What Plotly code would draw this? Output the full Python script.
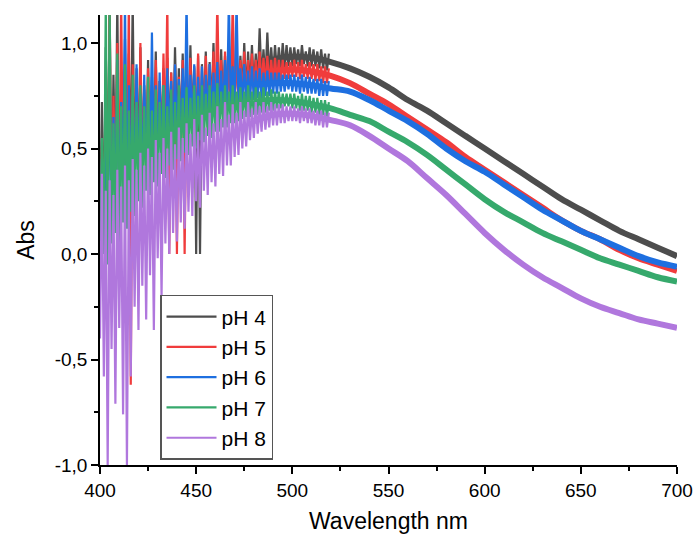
import plotly.graph_objects as go

# Wavelength grids (nm)
wl_noisy = list(range(400, 520))        # 1 nm steps, noisy short-wavelength end
wl_smooth = list(range(480, 701, 10))   # 10 nm steps, band centre from 480 nm on

# Absorbance readings, 400-519 nm (alternating trough / crest per nm)
ph4_noisy = [
    0.10, 0.72, 0.05, 0.98, 0.22, 1.20, 0.15, 0.85, 0.30, 1.20,
    0.20, 0.80, 0.35, 1.02, 0.28, 0.95, 0.40, 1.20, 0.32, 0.88,
    0.42, 0.98, 0.38, 0.80, 0.45, 0.92, 0.40, 0.84, 0.50, 0.96,
    0.45, 0.82, 0.52, 0.88, 0.48, 0.93, 0.55, 0.86, 0.50, 0.98,
    0.56, 0.88, 0.54, 0.95, 0.58, 0.90, 0.55, 0.99, 0.60, 0.89,
    0.00, 0.94, 0.00, 0.90, 0.64, 0.96, 0.62, 0.91, 0.68, 1.00,
    0.66, 0.93, 0.70, 0.97, 0.68, 0.94, 0.72, 1.00, 0.70, 0.95,
    0.74, 0.98, 0.73, 0.94, 0.76, 1.00, 0.75, 0.96, 0.78, 0.99,
    0.79, 0.95, 0.80, 1.07, 0.82, 0.97, 0.82, 1.05, 0.84, 0.98,
    0.85, 0.99, 0.86, 0.98, 0.87, 1.00, 0.88, 0.99, 0.89, 0.98,
    0.89, 0.98, 0.90, 0.97, 0.89, 0.99, 0.90, 0.96, 0.89, 0.98,
    0.89, 0.97, 0.89, 0.96, 0.88, 0.97, 0.88, 0.95, 0.87, 0.95,
]
ph5_noisy = [
    0.05, 0.50, 0.10, 0.85, 0.20, 1.20, 0.12, 0.75, 0.28, 1.00,
    0.15, 1.20, 0.30, 0.82, 0.22, 1.20, -0.62, 0.90, 0.35, 0.80,
    0.30, 1.00, 0.40, 0.78, 0.36, 0.88, 0.45, 0.80, 0.40, 0.92,
    0.48, 0.82, 0.44, 0.95, 0.50, 1.20, 0.00, 0.86, 0.52, 0.90,
    0.00, 0.84, 0.55, 0.92, 0.00, 0.86, 0.58, 0.93, 0.56, 0.88,
    0.60, 0.95, 0.58, 0.89, 0.62, 0.94, 0.60, 0.90, 0.65, 0.96,
    0.63, 1.20, 0.67, 0.92, 0.66, 0.96, 0.70, 0.93, 0.69, 1.20,
    0.72, 0.94, 0.71, 0.92, 0.74, 0.96, 0.74, 0.92, 0.76, 0.95,
    0.77, 0.92, 0.78, 0.96, 0.79, 0.93, 0.80, 0.94, 0.80, 0.92,
    0.81, 0.93, 0.82, 0.92, 0.82, 0.92, 0.83, 0.91, 0.83, 0.91,
    0.84, 0.92, 0.84, 0.91, 0.83, 0.92, 0.84, 0.90, 0.83, 0.91,
    0.83, 0.90, 0.82, 0.90, 0.82, 0.89, 0.81, 0.89, 0.81, 0.88,
]
ph6_noisy = [
    0.00, 0.45, 0.05, 0.70, 0.12, 0.88, 0.08, 0.65, 0.22, 0.92,
    0.15, 0.72, 0.25, 1.20, 0.20, 0.80, 0.30, 0.75, 0.28, 0.90,
    0.35, 0.76, 0.32, 0.85, 0.40, 0.78, 0.38, 1.05, 0.44, 0.80,
    0.42, 0.86, 0.48, 0.80, 0.46, 0.88, 0.52, 0.82, 0.50, 0.90,
    0.55, 0.83, 0.53, 0.88, 0.57, 1.20, 0.56, 0.85, 0.60, 0.90,
    0.58, 0.84, 0.62, 0.89, 0.60, 0.85, 0.64, 0.90, 0.63, 0.86,
    0.66, 0.91, 0.65, 0.87, 0.68, 0.92, 0.67, 1.20, 0.70, 0.89,
    0.69, 1.20, 0.71, 0.88, 0.71, 0.90, 0.72, 0.87, 0.73, 0.89,
    0.73, 0.87, 0.74, 0.88, 0.74, 0.86, 0.75, 0.87, 0.75, 0.86,
    0.76, 0.86, 0.76, 0.86, 0.77, 0.85, 0.77, 0.85, 0.78, 0.85,
    0.77, 0.85, 0.77, 0.84, 0.76, 0.85, 0.77, 0.84, 0.76, 0.84,
    0.76, 0.83, 0.76, 0.83, 0.75, 0.83, 0.75, 0.82, 0.75, 0.82,
]
ph7_noisy = [
    -0.10, 0.55, 0.00, 1.20, -0.05, 1.20, 0.05, 0.62, 0.10, 0.95,
    0.05, 0.70, 0.15, 0.90, 0.12, 0.68, 0.20, 0.85, 0.18, 0.72,
    0.25, 0.80, 0.22, 0.70, 0.30, 0.84, 0.28, 0.68, 0.34, 0.78,
    0.32, 0.72, 0.38, 0.80, 0.36, 0.70, 0.42, 0.78, 0.40, 0.72,
    0.45, 0.80, 0.44, 0.74, 0.48, 0.79, 0.47, 0.74, 0.51, 0.80,
    0.50, 0.75, 0.54, 0.80, 0.53, 0.76, 0.56, 0.80, 0.55, 0.77,
    0.58, 0.81, 0.58, 0.77, 0.60, 0.80, 0.60, 0.77, 0.62, 0.80,
    0.62, 0.77, 0.63, 0.79, 0.64, 0.77, 0.65, 0.80, 0.65, 0.77,
    0.66, 0.79, 0.66, 0.77, 0.67, 0.79, 0.67, 0.77, 0.68, 0.78,
    0.68, 0.77, 0.69, 0.77, 0.69, 0.76, 0.70, 0.76, 0.70, 0.76,
    0.69, 0.76, 0.69, 0.75, 0.68, 0.76, 0.68, 0.75, 0.68, 0.75,
    0.67, 0.74, 0.67, 0.74, 0.66, 0.73, 0.66, 0.73, 0.65, 0.72,
]
ph8_noisy = [
    -0.40, 0.38, -0.58, 0.30, -1.00, 0.35, -0.45, 0.28, -0.71, 0.40,
    -0.35, 0.32, -0.76, 0.42, -1.00, 0.35, -0.58, 0.45, -0.25, 0.40,
    -0.36, 0.48, -0.15, 0.42, -0.31, 0.50, -0.10, 0.46, -0.36, 0.54,
    -0.02, 0.48, -0.20, 0.55, 0.05, 0.50, 0.00, 0.58, 0.10, 0.52,
    0.06, 0.60, 0.15, 0.55, 0.12, 0.62, 0.20, 0.57, 0.18, 0.64,
    0.25, 0.58, 0.22, 0.66, 0.30, 0.60, 0.28, 0.67, 0.34, 0.62,
    0.32, 0.70, 0.38, 0.64, 0.37, 0.72, 0.42, 0.66, 0.42, 0.71,
    0.46, 0.67, 0.47, 0.72, 0.50, 0.68, 0.51, 0.72, 0.54, 0.69,
    0.55, 0.72, 0.57, 0.70, 0.58, 0.72, 0.59, 0.70, 0.60, 0.72,
    0.61, 0.71, 0.61, 0.71, 0.62, 0.71, 0.62, 0.70, 0.63, 0.70,
    0.63, 0.70, 0.63, 0.69, 0.62, 0.70, 0.63, 0.69, 0.62, 0.69,
    0.62, 0.68, 0.61, 0.68, 0.61, 0.68, 0.60, 0.67, 0.60, 0.67,
]

# Absorbance band centre readings, 480-700 nm
ph4_smooth = [0.87, 0.92, 0.935, 0.93, 0.91, 0.88, 0.84, 0.79, 0.73, 0.68,
              0.62, 0.56, 0.50, 0.44, 0.38, 0.32, 0.26, 0.21, 0.16, 0.11,
              0.07, 0.03, -0.01]
ph5_smooth = [0.84, 0.865, 0.875, 0.865, 0.845, 0.81, 0.76, 0.71, 0.65, 0.59,
              0.53, 0.46, 0.40, 0.34, 0.28, 0.22, 0.16, 0.11, 0.07, 0.02,
              -0.02, -0.05, -0.08]
ph6_smooth = [0.80, 0.81, 0.81, 0.80, 0.785, 0.77, 0.73, 0.68, 0.63, 0.57,
              0.50, 0.44, 0.39, 0.33, 0.27, 0.21, 0.16, 0.11, 0.07, 0.03,
              -0.01, -0.04, -0.06]
ph7_smooth = [0.72, 0.73, 0.725, 0.71, 0.69, 0.66, 0.63, 0.58, 0.53, 0.47,
              0.40, 0.33, 0.26, 0.20, 0.15, 0.10, 0.06, 0.02, -0.02, -0.05,
              -0.08, -0.11, -0.13]
ph8_smooth = [0.63, 0.66, 0.665, 0.655, 0.635, 0.61, 0.56, 0.50, 0.44, 0.36,
              0.28, 0.19, 0.10, 0.02, -0.05, -0.11, -0.16, -0.21, -0.25, -0.28,
              -0.31, -0.33, -0.35]

series_names = ["pH 4", "pH 5", "pH 6", "pH 7", "pH 8"]
series_colors = ["#4d4d4d", "#f03c3c", "#1e6fe0", "#36a96c", "#b077dd"]
noisy_sets = [ph4_noisy, ph5_noisy, ph6_noisy, ph7_noisy, ph8_noisy]
smooth_sets = [ph4_smooth, ph5_smooth, ph6_smooth, ph7_smooth, ph8_smooth]

FONT = "Liberation Sans, Arial, sans-serif"

fig = go.Figure()
for name, color, yn, ys in zip(series_names, series_colors, noisy_sets, smooth_sets):
    fig.add_trace(go.Scatter(
        x=wl_noisy, y=yn, mode="lines", name=name, legendgroup=name,
        line=dict(color=color, width=2.2), showlegend=True,
    ))
    fig.add_trace(go.Scatter(
        x=wl_smooth, y=ys, mode="lines", name=name, legendgroup=name,
        line=dict(color=color, width=6, shape="spline"), showlegend=False,
    ))

fig.update_layout(
    width=695, height=535,
    margin=dict(l=100, r=18, t=15, b=70),
    paper_bgcolor="white", plot_bgcolor="white",
    font=dict(family=FONT, size=19, color="black"),
    showlegend=True,
    legend=dict(
        x=0.104, y=0.378, xanchor="left", yanchor="top",
        bgcolor="white", bordercolor="#555555", borderwidth=1.5,
        font=dict(family=FONT, size=21, color="black"),
        itemwidth=50, tracegroupgap=0,
    ),
    annotations=[dict(
        text="Wavelength nm", xref="paper", yref="paper",
        x=0.5, y=-0.124, xanchor="center", yanchor="middle",
        showarrow=False, font=dict(family=FONT, size=23, color="black"),
    )],
)

fig.update_xaxes(
    range=[400, 700], showgrid=False, zeroline=False, automargin=False,
    showline=True, linecolor="black", linewidth=1.5,
    ticks="outside", ticklen=7, tickwidth=1.5, tickcolor="black",
    tickvals=[400, 450, 500, 550, 600, 650, 700],
    minor=dict(ticks="outside", ticklen=4, tickwidth=1.5, tickcolor="black",
               tickvals=[425, 475, 525, 575, 625, 675]),
    tickfont=dict(size=19),
)
fig.update_yaxes(
    range=[-1.0, 1.133], showgrid=False, zeroline=False, automargin=False,
    showline=True, linecolor="black", linewidth=1.5,
    ticks="outside", ticklen=7, tickwidth=1.5, tickcolor="black",
    tickvals=[-1.0, -0.5, 0.0, 0.5, 1.0],
    ticktext=["-1,0", "-0,5", "0,0", "0,5", "1,0"],
    minor=dict(ticks="outside", ticklen=4, tickwidth=1.5, tickcolor="black",
               tickvals=[-0.75, -0.25, 0.25, 0.75]),
    tickfont=dict(size=19),
    title=dict(text="Abs", font=dict(size=23), standoff=14),
)

fig.write_html("out.html")
